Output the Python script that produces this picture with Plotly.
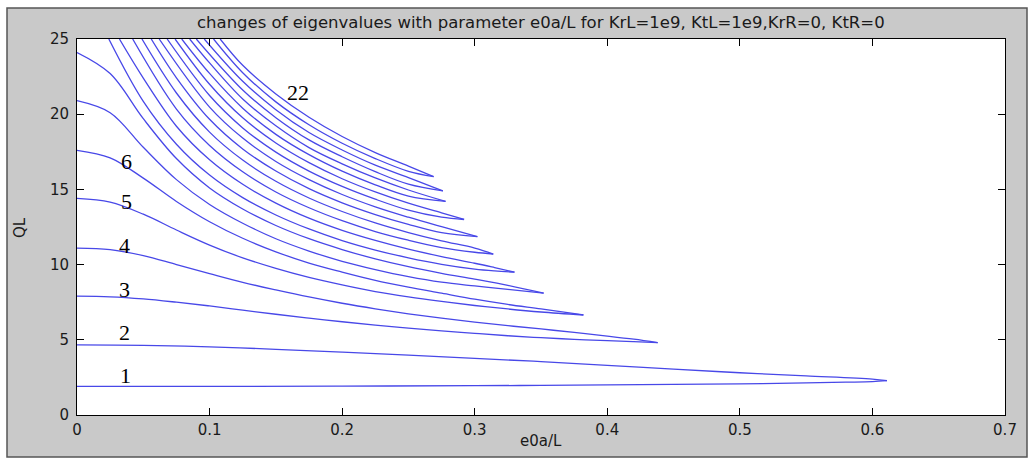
import plotly.graph_objects as go

# ---- data (x = e0a/L, y = eigenvalue) ----
b1_x = [0, 0.1, 0.2, 0.3, 0.35, 0.4, 0.45, 0.5, 0.55, 0.58, 0.6, 0.611]
b1_y = [1.9, 1.9, 1.92, 1.95, 1.97, 2.0, 2.03, 2.07, 2.13, 2.18, 2.22, 2.28]
b2_x = [0, 0.05, 0.1, 0.15, 0.2, 0.25, 0.3, 0.35, 0.4, 0.45, 0.5, 0.55, 0.6, 0.611]
b2_y = [4.66, 4.63, 4.53, 4.37, 4.18, 3.98, 3.76, 3.55, 3.3, 3.05, 2.81, 2.6, 2.38, 2.28]
b3_x = [0, 0.025, 0.05, 0.075, 0.1, 0.125, 0.15, 0.175, 0.2, 0.225, 0.25, 0.275, 0.3, 0.325, 0.35, 0.375, 0.4, 0.42, 0.438]
b3_y = [7.9, 7.86, 7.72, 7.5, 7.25, 6.97, 6.7, 6.44, 6.2, 5.98, 5.78, 5.6, 5.43, 5.27, 5.14, 5.03, 4.94, 4.88, 4.81]
b4_x = [0, 0.025, 0.05, 0.075, 0.1, 0.125, 0.15, 0.175, 0.2, 0.225, 0.25, 0.275, 0.3, 0.325, 0.35, 0.375, 0.4, 0.42, 0.438]
b4_y = [11.1, 11.0, 10.6, 10.0, 9.4, 8.82, 8.32, 7.85, 7.43, 7.06, 6.73, 6.44, 6.18, 5.94, 5.72, 5.49, 5.25, 5.04, 4.81]
b5_x = [0, 0.025, 0.05, 0.075, 0.1, 0.125, 0.15, 0.175, 0.2, 0.225, 0.25, 0.275, 0.3, 0.325, 0.35, 0.382]
b5_y = [14.4, 14.15, 13.35, 12.3, 11.3, 10.45, 9.75, 9.15, 8.65, 8.2, 7.85, 7.55, 7.28, 7.05, 6.85, 6.65]
b6_x = [0, 0.025, 0.05, 0.075, 0.1, 0.125, 0.15, 0.175, 0.2, 0.225, 0.25, 0.275, 0.3, 0.325, 0.35, 0.382]
b6_y = [17.6, 17.1, 15.75, 14.2, 12.85, 11.75, 10.85, 10.1, 9.5, 8.95, 8.5, 8.1, 7.7, 7.35, 7.05, 6.65]
b7_x = [0, 0.025, 0.05, 0.075, 0.1, 0.125, 0.15, 0.175, 0.2, 0.225, 0.25, 0.275, 0.3, 0.325, 0.352]
b7_y = [20.9, 20.1, 17.8, 15.65, 14.0, 12.75, 11.72, 10.9, 10.22, 9.67, 9.2, 8.83, 8.58, 8.35, 8.1]
b8_x = [0, 0.025, 0.05, 0.075, 0.1, 0.125, 0.15, 0.175, 0.2, 0.225, 0.25, 0.275, 0.3, 0.325, 0.352]
b8_y = [24.1, 22.7, 19.7, 17.05, 15.1, 13.7, 12.6, 11.72, 11.0, 10.38, 9.86, 9.42, 9.03, 8.62, 8.1]
b9_x = [0.024, 0.05, 0.075, 0.1, 0.125, 0.15, 0.175, 0.2, 0.225, 0.25, 0.275, 0.3, 0.315, 0.33]
b9_y = [25, 20.85, 18.0, 15.95, 14.45, 13.3, 12.37, 11.6, 10.97, 10.45, 10.02, 9.7, 9.58, 9.5]
b10_x = [0.032, 0.05, 0.075, 0.1, 0.125, 0.15, 0.175, 0.2, 0.225, 0.25, 0.275, 0.3, 0.315, 0.33]
b10_y = [25, 22.4, 19.2, 16.97, 15.34, 14.09, 13.09, 12.28, 11.61, 11.03, 10.53, 10.09, 9.8, 9.5]
b11_x = [0.042, 0.075, 0.1, 0.125, 0.15, 0.175, 0.2, 0.225, 0.25, 0.275, 0.3, 0.314]
b11_y = [25, 20.34, 17.92, 16.17, 14.83, 13.78, 12.92, 12.2, 11.62, 11.13, 10.82, 10.7]
b12_x = [0.049, 0.075, 0.1, 0.125, 0.15, 0.175, 0.2, 0.225, 0.25, 0.275, 0.3, 0.314]
b12_y = [25, 21.41, 18.81, 16.95, 15.54, 14.43, 13.53, 12.77, 12.13, 11.58, 11.1, 10.7]
b13_x = [0.056, 0.075, 0.1, 0.125, 0.15, 0.175, 0.2, 0.225, 0.25, 0.275, 0.302]
b13_y = [25, 22.42, 19.66, 17.69, 16.22, 15.05, 14.11, 13.33, 12.67, 12.12, 11.86]
b14_x = [0.062, 0.1, 0.125, 0.15, 0.175, 0.2, 0.225, 0.25, 0.275, 0.302]
b14_y = [25, 20.47, 18.41, 16.86, 15.65, 14.66, 13.84, 13.15, 12.52, 11.86]
b15_x = [0.068, 0.1, 0.125, 0.15, 0.175, 0.2, 0.225, 0.25, 0.275, 0.292]
b15_y = [25, 21.24, 19.09, 17.48, 16.22, 15.2, 14.35, 13.62, 13.15, 13.0]
b16_x = [0.074, 0.1, 0.125, 0.15, 0.175, 0.2, 0.225, 0.25, 0.275, 0.292]
b16_y = [25, 21.99, 19.76, 18.09, 16.78, 15.71, 14.83, 14.08, 13.44, 13.0]
b17_x = [0.079, 0.1, 0.125, 0.15, 0.175, 0.2, 0.225, 0.25, 0.278]
b17_y = [25, 22.71, 20.4, 18.66, 17.31, 16.21, 15.3, 14.55, 14.2]
b18_x = [0.085, 0.1, 0.125, 0.15, 0.175, 0.2, 0.225, 0.25, 0.278]
b18_y = [25, 23.41, 21.01, 19.23, 17.78, 16.7, 15.76, 14.96, 14.2]
b19_x = [0.090, 0.125, 0.15, 0.175, 0.2, 0.225, 0.25, 0.276]
b19_y = [25, 21.61, 19.77, 18.29, 17.17, 16.18, 15.35, 14.9]
b20_x = [0.096, 0.125, 0.15, 0.175, 0.2, 0.225, 0.25, 0.276]
b20_y = [25, 22.19, 20.3, 18.78, 17.62, 16.61, 15.79, 14.9]
b21_x = [0.103, 0.125, 0.15, 0.175, 0.2, 0.225, 0.25, 0.269]
b21_y = [25, 22.76, 20.82, 19.3, 18.07, 17.05, 16.2, 15.85]
b22_x = [0.108, 0.125, 0.15, 0.175, 0.2, 0.225, 0.25, 0.269]
b22_y = [25, 23.25, 21.35, 19.8, 18.52, 17.45, 16.55, 15.85]

branch_x = [b1_x, b2_x, b3_x, b4_x, b5_x, b6_x, b7_x, b8_x, b9_x, b10_x, b11_x,
            b12_x, b13_x, b14_x, b15_x, b16_x, b17_x, b18_x, b19_x, b20_x, b21_x, b22_x]
branch_y = [b1_y, b2_y, b3_y, b4_y, b5_y, b6_y, b7_y, b8_y, b9_y, b10_y, b11_y,
            b12_y, b13_y, b14_y, b15_y, b16_y, b17_y, b18_y, b19_y, b20_y, b21_y, b22_y]

mode_labels = ["1", "2", "3", "4", "5", "6", "22"]
x_ticks = [0, 0.1, 0.2, 0.3, 0.4, 0.5, 0.6, 0.7]
x_tick_text = ["0", "0.1", "0.2", "0.3", "0.4", "0.5", "0.6", "0.7"]
y_ticks = [0, 5, 10, 15, 20, 25]
y_tick_text = ["0", "5", "10", "15", "20", "25"]

# ---- figure ----
W, H = 1029, 459
L, R, T, B = 77, 1005, 39, 415
LINE = "rgb(72,72,232)"
SANS = "DejaVu Sans, Arial, sans-serif"
TXT = "#1a1a1a"

fig = go.Figure()
for bx, by in zip(branch_x, branch_y):
    fig.add_trace(go.Scatter(x=bx, y=by, mode="lines",
                             line=dict(color=LINE, width=1.3, shape="spline", smoothing=1.0),
                             showlegend=False, hoverinfo="skip"))


def px2paper_x(px):
    return (px - L) / (R - L)


def py2paper_y(py):
    return (B - py) / (B - T)


# label positions (pixel centres in the reference)
label_pos = [(125, 375.5), (124, 332.5), (124, 289.5), (124, 245.5), (126.5, 201.5), (126, 161.5), (297.5, 92.5)]
for txt, (px, py) in zip(mode_labels, label_pos):
    fig.add_annotation(x=px2paper_x(px), y=py2paper_y(py), xref="paper", yref="paper",
                       text=txt, showarrow=False, xanchor="center", yanchor="middle",
                       font=dict(family="Liberation Serif, Times New Roman, serif", size=22, color="black"))

tickfont = dict(family=SANS, size=15, color=TXT)
fig.update_xaxes(range=[0, 0.7], tickvals=x_ticks, ticktext=x_tick_text, showgrid=False,
                 zeroline=False, showline=True, linecolor="black", linewidth=1, mirror="ticks",
                 ticks="inside", ticklen=7, tickcolor="black", tickfont=tickfont, ticklabelstandoff=1)
fig.update_yaxes(range=[0, 25], tickvals=y_ticks, ticktext=y_tick_text, showgrid=False,
                 zeroline=False, showline=True, linecolor="black", linewidth=1, mirror="ticks",
                 ticks="inside", ticklen=7, tickcolor="black", tickfont=tickfont, ticklabelstandoff=4)

# axis titles and title
fig.add_annotation(x=px2paper_x(541), y=py2paper_y(441), xref="paper", yref="paper", text="e0a/L",
                   showarrow=False, xanchor="center", yanchor="middle",
                   font=dict(family=SANS, size=15, color=TXT))
fig.add_annotation(x=px2paper_x(20), y=py2paper_y(228), xref="paper", yref="paper", text="QL",
                   showarrow=False, xanchor="center", yanchor="middle", textangle=-90,
                   font=dict(family=SANS, size=15, color=TXT))
fig.add_annotation(x=px2paper_x(541), y=py2paper_y(23), xref="paper", yref="paper",
                   text="changes of eigenvalues with parameter e0a/L for KrL=1e9, KtL=1e9,KrR=0, KtR=0",
                   showarrow=False, xanchor="center", yanchor="middle",
                   font=dict(family=SANS, size=16.5, color=TXT))

# window frame: white outer margin + dark border
for (x0, y0, x1, y1) in [(0, 0, 7, H), (0, 0, W, 8), (1027, 0, W, H), (0, 457, W, H)]:
    fig.add_shape(type="rect", xref="paper", yref="paper",
                  x0=px2paper_x(x0), x1=px2paper_x(x1), y0=py2paper_y(y0), y1=py2paper_y(y1),
                  fillcolor="white", line=dict(width=0), layer="above")
fig.add_shape(type="rect", xref="paper", yref="paper",
              x0=px2paper_x(7), x1=px2paper_x(1027), y0=py2paper_y(8), y1=py2paper_y(457),
              fillcolor="rgba(0,0,0,0)", line=dict(color="#555555", width=1.5), layer="above")

fig.update_layout(width=W, height=H, margin=dict(l=L, r=W - R, t=T, b=H - B),
                  paper_bgcolor="#c9c9c9", plot_bgcolor="white", showlegend=False)

fig.write_html("out.html")
